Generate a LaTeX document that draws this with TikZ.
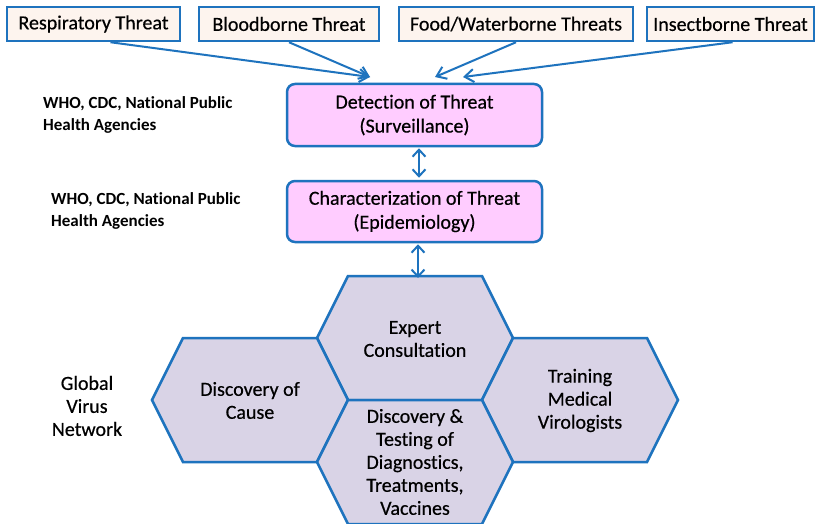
\documentclass[tikz,border=0pt]{standalone}
\usepackage{fontspec}
\setmainfont{Carlito}[Ligatures=NoCommon,UprightFeatures={FakeBold=0.5}]
\usetikzlibrary{arrows.meta}
\definecolor{edgeblue}{RGB}{30,115,190}
\definecolor{cream}{RGB}{253,244,238}
\definecolor{pinkfill}{RGB}{255,204,255}
\definecolor{lavender}{RGB}{217,211,230}
\begin{document}
\begin{tikzpicture}[x=1pt,y=-1pt,
  threat/.style={draw=edgeblue,line width=2.5pt,fill=cream,minimum height=34pt,inner sep=0pt,font=\fontsize{20}{23}\selectfont},
  stage/.style={draw=edgeblue,line width=2.5pt,fill=pinkfill,rounded corners=8pt,minimum width=255pt,inner sep=0pt,align=center,font=\fontsize{20}{24}\selectfont},
  hexst/.style={draw=edgeblue,line width=2.5pt,fill=lavender,line join=miter},
  hextext/.style={align=center,inner sep=0pt,font=\fontsize{20}{23}\selectfont},
  side/.style={align=left,inner sep=0pt,anchor=west,font=\bfseries\fontsize{17}{22}\selectfont},
  conn/.style={draw=edgeblue,line width=2pt,-{Straight Barb[length=9pt,width=13pt]}},
  dconn/.style={draw=edgeblue,line width=2pt,{Straight Barb[length=7pt,width=13pt]}-{Straight Barb[length=7pt,width=13pt]}}]
\useasboundingbox (0,0) rectangle (816,524);
\fill[white] (0,0) rectangle (816,524);

% top threat boxes
\node[threat,minimum width=173pt] (resp) at (93.5,24) {Respiratory Threat};
\node[threat,minimum width=180pt] (blood) at (289,24) {Bloodborne Threat};
\node[threat,minimum width=234pt] (food) at (516,24) {Food/Waterborne Threats};
\node[threat,minimum width=167pt] (insect) at (730.5,24) {Insectborne Threat};

% stage boxes
\node[stage,minimum height=62pt] (detect) at (414.5,115) {Detection of Threat\\(Surveillance)};
\node[stage,minimum height=61pt] (charact) at (414.5,211.5) {Characterization of Threat\\(Epidemiology)};

% side labels
\node[side] (who1) at (43,115) {WHO, CDC, National Public\\Health Agencies};
\node[side] (who2) at (51,211) {WHO, CDC, National Public\\Health Agencies};
\node[align=center,inner sep=0pt,font=\fontsize{20}{23}\selectfont] (gvn) at (87,406) {Global\\Virus\\Network};

% hexagons
\newcommand\hexshape[2]{\path[hexst] (#1-98,#2) -- (#1-67,#2-62) -- (#1+67,#2-62) -- (#1+98,#2) -- (#1+67,#2+62) -- (#1-67,#2+62) -- cycle;}
\hexshape{415}{338}
\hexshape{250}{400}
\hexshape{580}{400}
\hexshape{415}{462}
\coordinate (hextop) at (415,276);

\node[hextext] (expert) at (415,339) {Expert\\Consultation};
\node[hextext] (cause) at (250,400.5) {Discovery of\\Cause};
\node[hextext] (train) at (580,400.5) {Training\\Medical\\Virologists};
\node[hextext] (diag) at (415,462) {Discovery \&\\Testing of\\Diagnostics,\\Treatments,\\Vaccines};

% arrows
\coordinate (t1) at (370,77);
\coordinate (t2) at (435,77);
\coordinate (t3) at (463,77);
\draw[conn] ([xshift=17pt]resp.south) -- (t1);
\draw[conn] (blood.south) -- (t1);
\draw[conn] (food.south) -- (t2);
\draw[conn] ([xshift=2pt]insect.south) -- (t3);

\draw[dconn] ([xshift=4.5pt,yshift=-1pt]detect.south) -- ([xshift=4.5pt,yshift=2pt]charact.north);
\draw[dconn] ([xshift=3.5pt,yshift=-1pt]charact.south) -- ([xshift=3pt,yshift=-2pt]hextop);
\end{tikzpicture}
\end{document}
